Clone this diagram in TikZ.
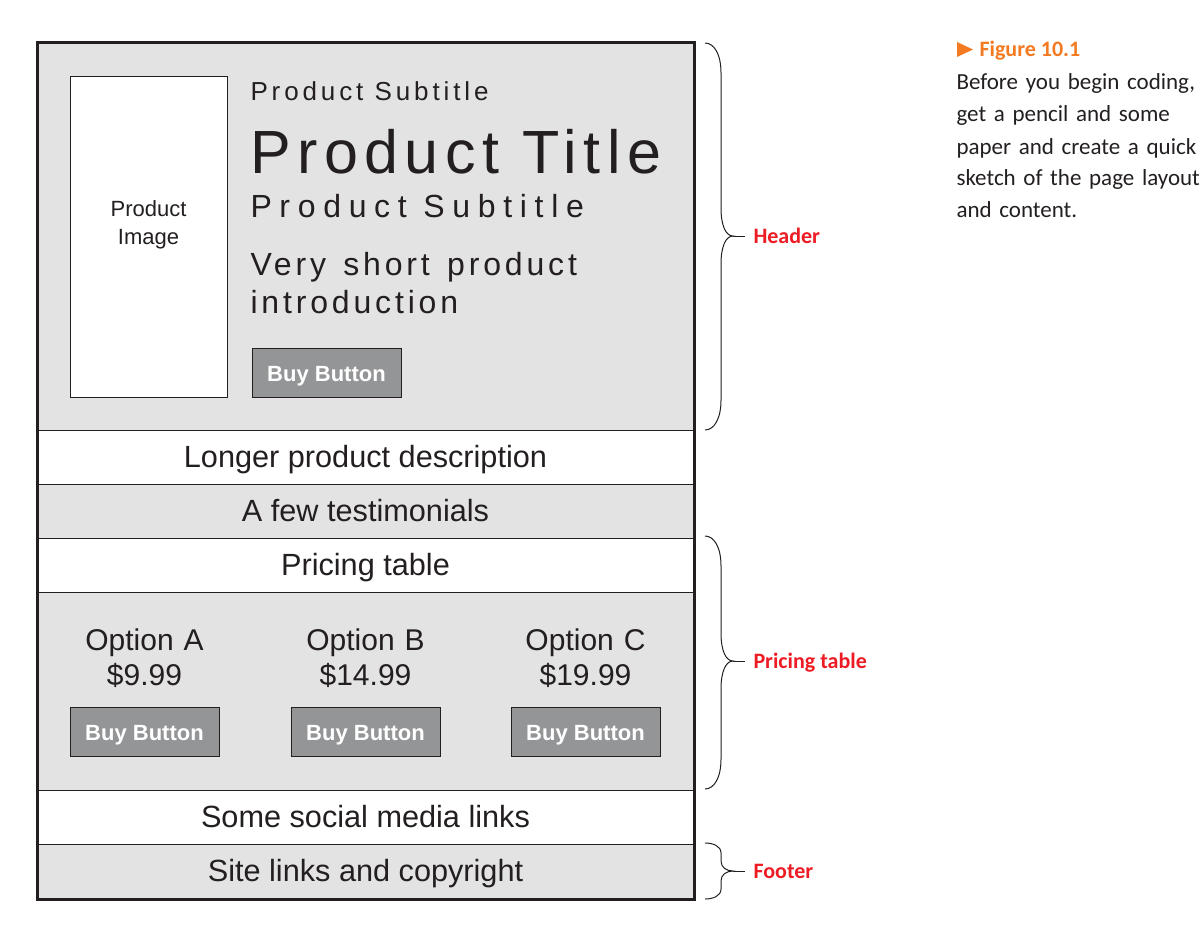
\documentclass[tikz,border=0pt]{standalone}
\usepackage{fontspec}
\setmainfont{Liberation Sans}
\newfontfamily\notefont{Carlito}

\definecolor{sketchgray}{RGB}{227,227,227}
\definecolor{buttongray}{RGB}{148,149,151}
\definecolor{inkblack}{RGB}{35,31,32}
\definecolor{notered}{RGB}{237,28,36}
\definecolor{noteorange}{RGB}{243,122,32}

\tikzset{every picture/.style={line width=0.75pt},
  grayrow/.style={draw=inkblack, fill=sketchgray},
  whiterow/.style={draw=inkblack, fill=white},
  buybox/.style={draw=inkblack, fill=buttongray},
  buytext/.style={color=white, inner sep=0pt, anchor=base, font=\fontsize{16.5pt}{20pt}\selectfont\bfseries},
  rowtext/.style={color=inkblack, inner sep=0pt, anchor=base, font=\fontsize{23pt}{27pt}\selectfont},
  optiontext/.style={color=inkblack, inner sep=0pt, anchor=base, text width=112.5pt, align=center, font=\fontsize{22.5pt}{26.25pt}\selectfont},
  curly/.style={draw=inkblack, line width=0.75pt},
  notelabel/.style={color=notered, anchor=west, inner xsep=6pt, inner ysep=0pt, text height=10.6pt, text depth=0pt, font=\notefont\fontsize{16.5pt}{20pt}\selectfont\bfseries}
}

\begin{document}
\begin{tikzpicture}[x=0.75pt,y=0.75pt,yscale=-1,xscale=1]
%set diagram left start at 0, and has height of 938
\useasboundingbox (0,0) rectangle (1201,938);

%Shape: Rectangle [header]
\draw [grayrow] (37,43) rectangle (694,430) ;
%Shape: Rectangle [description]
\draw [whiterow] (37,430) rectangle (694,484) ;
%Shape: Rectangle [testimonials]
\draw [grayrow] (37,484) rectangle (694,538) ;
%Shape: Rectangle [pricing title]
\draw [whiterow] (37,538) rectangle (694,592) ;
%Shape: Rectangle [options]
\draw [grayrow] (37,592) rectangle (694,790) ;
%Shape: Rectangle [social]
\draw [whiterow] (37,790) rectangle (694,844) ;
%Shape: Rectangle [footer]
\draw [grayrow] (37,844) rectangle (694,899) ;
%Shape: Rectangle [outer frame]
\draw [draw=inkblack, line width=2.25pt] (37,43) rectangle (694,899) ;

%Shape: Rectangle [product image]
\draw [whiterow] (70,77) rectangle (227,397) ;
%Shape: Rectangle [buy buttons]
\draw [buybox] (252,348) rectangle (401,397) ;
\draw [buybox] (70,707) rectangle (219,756) ;
\draw [buybox] (291,707) rectangle (440,756) ;
\draw [buybox] (511,707) rectangle (660,756) ;

% Text Node
\draw (148.5,216) node [color=inkblack, inner sep=0pt, anchor=base, text width=112.5pt, align=center, font=\fontsize{16.5pt}{21pt}\selectfont] (imgtext) {Product\\Image};
% Text Node
\draw (250,101) node [color=inkblack, inner sep=0pt, anchor=base west, font=\fontsize{19.5pt}{23pt}\selectfont\addfontfeature{LetterSpace=15}] (subtop) {Product Subtitle};
% Text Node
\draw (250,173) node [color=inkblack, inner sep=0pt, anchor=base west, font=\fontsize{45.75pt}{52pt}\selectfont\addfontfeature{LetterSpace=10.5}] (title) {Product Title};
% Text Node
\draw (250,217) node [color=inkblack, inner sep=0pt, anchor=base west, font=\fontsize{24pt}{28pt}\selectfont\addfontfeature{LetterSpace=24}] (subbottom) {Product Subtitle};
% Text Node
\draw (250,275) node [color=inkblack, inner sep=0pt, anchor=base west, text width=330pt, align=left, font=\fontsize{24pt}{28.5pt}\selectfont\addfontfeature{LetterSpace=12}] (intro) {Very\hspace{5pt} short\hspace{5pt} product\\introduction};
% Text Node
\draw (326.5,381) node [buytext] (buyhead) {Buy Button};

% Text Node
\draw (365.5,467) node [rowtext] (desc) {Longer product description};
% Text Node
\draw (365.5,521) node [rowtext] (testi) {A few testimonials};
% Text Node
\draw (365.5,575) node [rowtext] (pricing) {Pricing table};
% Text Node
\draw (144.5,650) node [optiontext] (opta) {Option A\\\$9.99};
% Text Node
\draw (365.5,650) node [optiontext] (optb) {Option B\\\$14.99};
% Text Node
\draw (585.5,650) node [optiontext] (optc) {Option C\\\$19.99};
% Text Node
\draw (144.5,740) node [buytext] (buya) {Buy Button};
% Text Node
\draw (365.5,740) node [buytext] (buyb) {Buy Button};
% Text Node
\draw (585.5,740) node [buytext] (buyc) {Buy Button};
% Text Node
\draw (365.5,827) node [rowtext] (social) {Some social media links};
% Text Node
\draw (365.5,881) node [rowtext] (sitelinks) {Site links and copyright};

%Curve Lines [header brace]
\coordinate (headtip) at (733,236) ;
\draw [curly] (705,43) .. controls (714,43) and (721,54) .. (721,73) -- (721,208) .. controls (721,226) and (726,236) .. (headtip) .. controls (726,236) and (721,246) .. (721,264) -- (721,400) .. controls (721,419) and (714,430) .. (705,430) ;
%Curve Lines [pricing brace]
\coordinate (pricetip) at (733,661) ;
\draw [curly] (705,536) .. controls (714,536) and (721,547) .. (721,566) -- (721,633) .. controls (721,651) and (726,661) .. (pricetip) .. controls (726,661) and (721,671) .. (721,689) -- (721,759) .. controls (721,778) and (714,789) .. (705,789) ;
%Curve Lines [footer brace]
\coordinate (foottip) at (733,871) ;
\draw [curly] (705,843) .. controls (713,843) and (721,846) .. (721,853) -- (721,861) .. controls (721,867) and (726,871) .. (foottip) .. controls (726,871) and (721,875) .. (721,881) -- (721,889) .. controls (721,896) and (713,899) .. (705,899) ;

% Text Node
\draw (745,236) node [notelabel] (headlbl) {Header};
% Text Node
\draw (745,661) node [notelabel] (pricelbl) {Pricing table};
% Text Node
\draw (745,871) node [notelabel] (footlbl) {Footer};
%Straight Lines
\draw [curly] (headtip) -- (headlbl) ;
\draw [curly] (pricetip) -- (pricelbl) ;
\draw [curly] (foottip) -- (footlbl) ;

%Shape: Triangle
\fill [noteorange] (957,42) -- (973,49.5) -- (957,57) -- cycle ;
% Text Node
\draw (979,57) node [color=noteorange, inner sep=0pt, anchor=base west, font=\notefont\fontsize{16.5pt}{20pt}\selectfont\bfseries] (figtitle) {Figure 10.1};
% Text Node
\draw (956,90) node [color=inkblack, inner sep=0pt, anchor=base west, text width=183.75pt, align=left, font=\notefont\fontsize{17.25pt}{24pt}\selectfont] (figtext) {Before you begin coding,\\get a pencil and some\\paper and create a quick\\sketch of the page layout\\and content.};

\end{tikzpicture}
\end{document}
